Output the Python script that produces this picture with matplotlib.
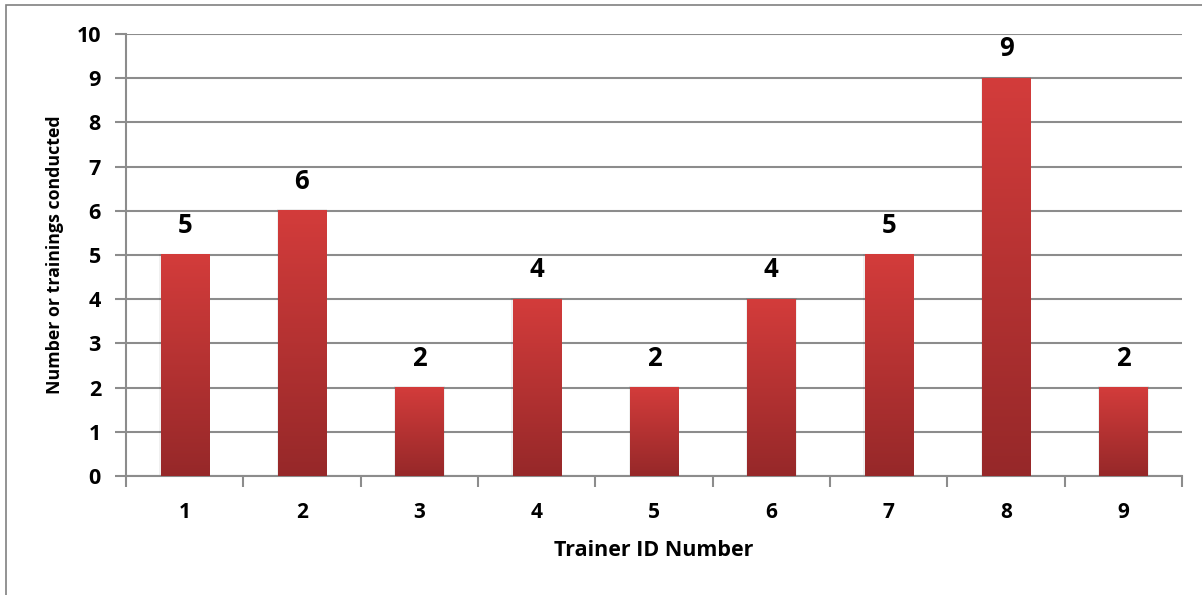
# Number of trainings per trainer, bar chart with red gradient bars
import numpy as np
import matplotlib
matplotlib.use('Agg')
import matplotlib.pyplot as plt
from matplotlib.colors import LinearSegmentedColormap
from matplotlib.patches import Rectangle

trainer_ids = ['1', '2', '3', '4', '5', '6', '7', '8', '9']
trainings = [5, 6, 2, 4, 2, 4, 5, 9, 2]

plt.rcParams['font.family'] = ['Open Sans', 'DejaVu Sans']
plt.rcParams['font.weight'] = 'bold'

GRID = '#8c8c8c'
grad = LinearSegmentedColormap.from_list('bar', ['#962829', '#d33c3b'])

fig = plt.figure(figsize=(12.02, 5.95), dpi=100)
ax = fig.add_axes([0.1048, 0.2, 0.8786, 0.7429])

# рамка вокруг всей картинки
fig.patches.append(Rectangle((6 / 1202, -0.05), 1.2, 1 - 5 / 595 + 0.05,
                             transform=fig.transFigure, fill=False,
                             edgecolor='#808080', linewidth=1.2))

x = np.arange(len(trainer_ids))
width = 0.41
gradient = np.linspace(0, 1, 256).reshape(-1, 1)
for xi, v in zip(x, trainings):
    # лёгкая тень
    ax.add_patch(Rectangle((xi - width / 2 - 0.012, 0), width + 0.024, v + 0.03,
                           facecolor='#000000', alpha=0.06, edgecolor='none', zorder=2))
    ax.imshow(gradient, cmap=grad, aspect='auto', origin='lower',
              extent=(xi - width / 2, xi + width / 2, 0, v), zorder=3)
    ax.text(xi, v + 0.36, str(v), ha='center', va='bottom',
            fontsize=18.5, fontweight='bold', zorder=4)

ax.set_xlim(-0.5, len(trainer_ids) - 0.5)
ax.set_ylim(0, 10)
ax.set_yticks(range(0, 11))
ax.yaxis.grid(True, color=GRID, linewidth=1.5)
ax.set_axisbelow(True)

ax.set_xticks(x)
ax.set_xticklabels(trainer_ids, fontsize=15, fontweight='bold')
ax.set_xticks(np.arange(-0.5, len(trainer_ids)), minor=True)
ax.tick_params(axis='x', which='major', length=0, pad=19)
ax.tick_params(axis='x', which='minor', length=8, color=GRID, width=1.5, direction='out')
ax.tick_params(axis='y', length=8, color=GRID, width=1.5, pad=10, labelsize=15.5)
for lbl in ax.get_yticklabels():
    lbl.set_fontweight('bold')

for s in ['top', 'right']:
    ax.spines[s].set_visible(False)
for s in ['left', 'bottom']:
    ax.spines[s].set_color(GRID)
    ax.spines[s].set_linewidth(1.5)

ax.set_xlabel('Trainer ID Number', fontsize=15.5, fontweight='bold', labelpad=12)
ax.set_ylabel('Number or trainings conducted', fontsize=12.8, fontweight='bold', labelpad=9)

fig.savefig('out.png', dpi=100)
